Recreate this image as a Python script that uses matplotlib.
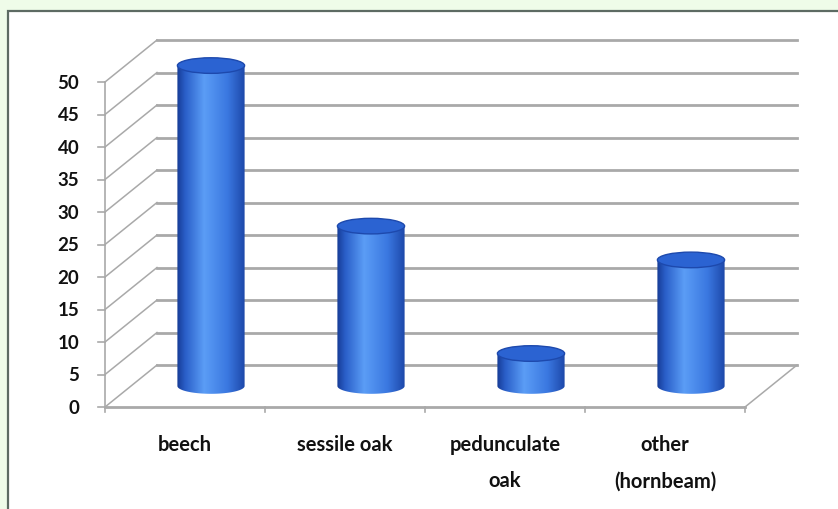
import numpy as np
import matplotlib.pyplot as plt
from matplotlib.patches import Ellipse, Rectangle, Polygon
from matplotlib.colors import LinearSegmentedColormap

# data
categories = ["beech", "sessile oak", "pedunculate\noak", "other\n(hornbeam)"]
values = [49.3, 24.6, 5, 19.4]
y_ticks = list(range(0, 55, 5))

# fake 3d: depth shift of the back wall (in data units)
dx = 0.325
dy = 6.46
rx = 0.21     # cylinder radius (category units)
eh = 2.4      # ellipse height (value units)

grid_col = "#a9a9a9"
font = "Lato"

fig = plt.figure(figsize=(8.38, 5.10), dpi=100)
fig.patch.set_facecolor("#effce9")
# white panel with dark border (top/left visible)
fig.patches.append(Rectangle((8 / 838, -0.1), 1.2, 1.1 - 12 / 510,
                             transform=fig.transFigure, facecolor="white",
                             edgecolor="#5d6b63", lw=1.6, zorder=-10))

ax = fig.add_axes([0, 0, 1, 1])
ax.patch.set_alpha(0)
ax.axis("off")

n = len(categories)
x0 = -0.5
x1 = n - 0.5

# walls: diagonals on the side wall + lines on the back wall
for v in y_ticks:
    ax.plot([x0, x0 + dx], [v, v + dy], color=grid_col, lw=1.1, zorder=1)
    ax.plot([x0 + dx, x1 + dx], [v + dy, v + dy], color=grid_col, lw=2.0, zorder=1)

# front axis + floor
ax.plot([x0, x0], [0, y_ticks[-1]], color=grid_col, lw=1.2, zorder=2)
ax.plot([x0, x1], [0, 0], color=grid_col, lw=2.0, zorder=2)
ax.plot([x1, x1 + dx], [0, dy], color=grid_col, lw=1.1, zorder=2)
for v in y_ticks:
    ax.plot([x0 - 0.045, x0], [v, v], color=grid_col, lw=1.2, zorder=2)
    ax.text(x0 - 0.16, v, str(v), ha="right", va="center", fontsize=13.5,
            fontweight="bold", family=font, color="#111111")
for i in range(n + 1):
    ax.plot([x0 + i, x0 + i], [0, -0.8], color=grid_col, lw=1.2, zorder=2)

# category labels
for i, lab in enumerate(categories):
    ax.text(i, -4.1, lab, ha="center", va="top", fontsize=14.5, fontweight="bold",
            family=font, color="#111111", linespacing=2.05)

# cylinders
cmap = LinearSegmentedColormap.from_list(
    "cyl", [(0.0, "#173c96"), (0.12, "#2a5fc9"), (0.4, "#5b9df6"),
            (0.75, "#3a77e0"), (1.0, "#1d48aa")])
grad = np.linspace(0, 1, 200).reshape(1, -1)
for i, v in enumerate(values):
    cx = i + 0.5 * dx
    base = 0.5 * dy
    top = base + v
    t = np.linspace(np.pi, 2 * np.pi, 60)
    pts = [(cx + rx * np.cos(a), base + eh / 2 * np.sin(a)) for a in t]
    pts += [(cx + rx, top), (cx - rx, top)]
    body = Polygon(pts, closed=True, facecolor="none", edgecolor="none")
    ax.add_patch(body)
    im = ax.imshow(grad, cmap=cmap, aspect="auto", zorder=3,
                   extent=(cx - rx, cx + rx, base - eh / 2, top))
    im.set_clip_path(body)
    ax.add_patch(Ellipse((cx, top), 2 * rx, eh, facecolor="#2b63d2",
                         edgecolor="#1d49ad", lw=1.0, zorder=4))

ax.set_xlim(-1.15625, 4.08125)
ax.set_ylim(-15.69, 62.77)

fig.savefig("out.png", dpi=100, facecolor=fig.get_facecolor())
